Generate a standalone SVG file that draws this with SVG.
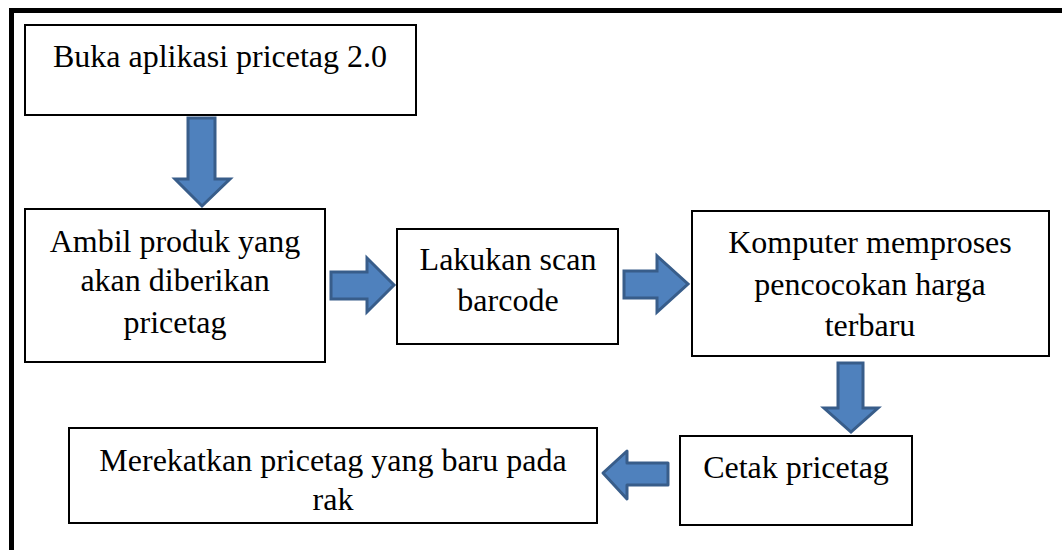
<svg xmlns="http://www.w3.org/2000/svg" width="1062" height="550" viewBox="0 0 1062 550">
<style>
.box{fill:#fff;stroke:#000;stroke-width:2}
.t{font-family:"Liberation Serif","Times New Roman",serif;font-size:32px;fill:#000;text-anchor:middle}
.arr{fill:#4F81BD;stroke:#385D8A;stroke-width:3;stroke-linejoin:miter}
.arrR{fill:#4F81BD;stroke:#385D8A;stroke-width:3;stroke-linejoin:round}
</style>
<rect width="1062" height="550" fill="#fff"/>
<g id="frame">
<rect x="9" y="8" width="1053" height="5" fill="#000"/>
<rect x="9" y="8" width="5" height="542" fill="#000"/>
</g>
<g id="n1"><rect class="box" x="25" y="25" width="391" height="90"/><text class="t" x="220" y="67">Buka aplikasi pricetag 2.0</text></g>
<g id="n2"><rect class="box" x="25" y="209" width="300" height="153"/><text class="t" x="175" y="252">Ambil produk yang</text><text class="t" x="175" y="291">akan diberikan</text><text class="t" x="175" y="333">pricetag</text></g>
<g id="n3"><rect class="box" x="397" y="229" width="221" height="115"/><text class="t" x="508" y="270">Lakukan scan</text><text class="t" x="508" y="311">barcode</text></g>
<g id="n4"><rect class="box" x="692" y="211" width="357" height="145"/><text class="t" x="870" y="253">Komputer memproses</text><text class="t" x="870" y="295">pencocokan harga</text><text class="t" x="870" y="336">terbaru</text></g>
<g id="n5"><rect class="box" x="680" y="436" width="232" height="89"/><text class="t" x="796" y="478">Cetak pricetag</text></g>
<g id="n6"><rect class="box" x="69" y="428" width="528" height="95"/><text class="t" x="333" y="471">Merekatkan pricetag yang baru pada</text><text class="t" x="333" y="510">rak</text></g>
<g id="connectors">
<polygon class="arr" points="188,118 215,118 215,179 230,179 202,206 175,179 188,179"/>
<polygon class="arr" points="331,272 367,272 367,258 394,285 367,312 367,299 331,299"/>
<polygon class="arr" points="624,271 657,271 657,256 688,284 657,312 657,298 624,298"/>
<polygon class="arr" points="838,363 863,363 863,408 878,408 851,432 824,408 838,408"/>
<polygon class="arrR" points="668,463 627,463 627,451 603,473 627,499 627,485 668,485"/>
</g>
</svg>
